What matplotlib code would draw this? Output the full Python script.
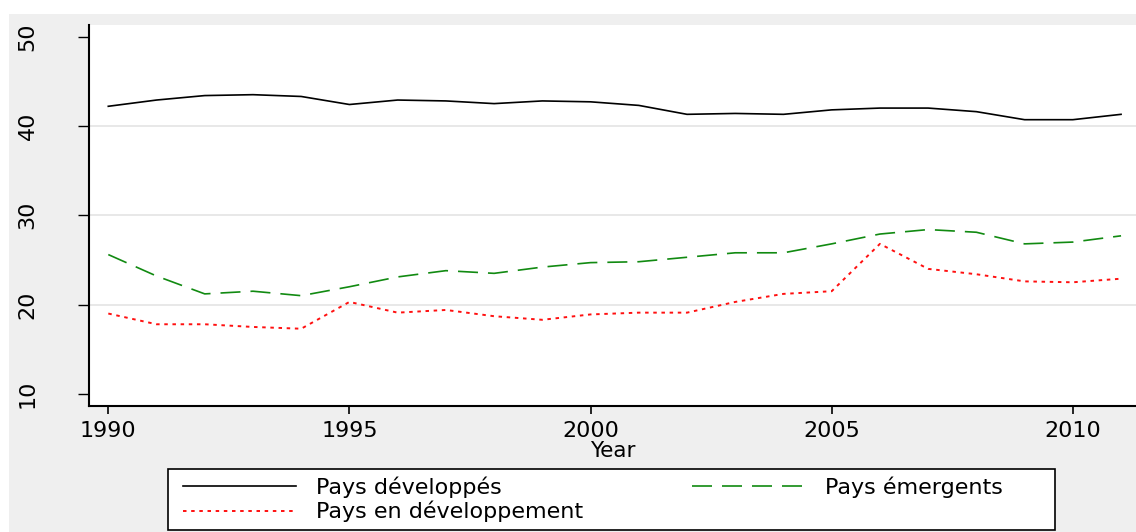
import numpy as np
import matplotlib.pyplot as plt
from matplotlib.patches import Rectangle

years = list(range(1990, 2012))
developpes = [42.2, 42.9, 43.4, 43.5, 43.3, 42.4, 42.9, 42.8, 42.5, 42.8, 42.7, 42.3,
              41.3, 41.4, 41.3, 41.8, 42.0, 42.0, 41.6, 40.7, 40.7, 41.3]
emergents = [25.6, 23.2, 21.2, 21.5, 21.0, 22.0, 23.1, 23.8, 23.5, 24.2, 24.7, 24.8,
             25.3, 25.8, 25.8, 26.8, 27.9, 28.4, 28.1, 26.8, 27.0, 27.7]
en_dev = [19.0, 17.8, 17.8, 17.5, 17.3, 20.3, 19.1, 19.4, 18.7, 18.3, 18.9, 19.1,
          19.1, 20.3, 21.2, 21.5, 26.8, 24.0, 23.4, 22.6, 22.5, 22.9]
xticks = [1990, 1995, 2000, 2005, 2010]
yticks = [10, 20, 30, 40, 50]

W, H = 1136, 532
fig = plt.figure(figsize=(W / 100, H / 100), dpi=100)
fig.patch.set_facecolor('white')
# fond gris façon Stata
fig.add_artist(Rectangle((9 / W, 0), 1, 1 - 14 / H, transform=fig.transFigure,
                         facecolor='#efefef', edgecolor='none', zorder=-5))

ax = fig.add_axes([89 / W, 1 - 406 / H, 1 - 89 / W, (406 - 25) / H])
ax.set_facecolor('white')

for g in [20, 30, 40]:
    ax.axhline(g, color='#e4e4e4', lw=1.2, zorder=0)

l1, = ax.plot(years, developpes, color='black', lw=1.2, label='Pays développés')
l2, = ax.plot(years, emergents, color='#118a11', lw=1.2, dashes=(12, 6), label='Pays émergents')
l3, = ax.plot(years, en_dev, color='#ff1010', lw=1.4, dashes=(1.8, 2.4), label='Pays en développement')

ax.set_xlim(1989.6, 2011.31)
ax.set_ylim(8.65, 51.3)
ax.set_xticks(xticks)
ax.set_yticks(yticks)
ax.set_yticklabels([str(v) for v in yticks], rotation=90, va='center',
                   family=['Liberation Sans Narrow', 'DejaVu Sans'], fontsize=16)
ax.tick_params(axis='y', length=8, width=1, pad=29)
ax.tick_params(axis='x', length=6, width=1.2, pad=5, labelsize=16)
ax.set_xlabel('Year', fontsize=15.5, labelpad=0)

for s in ['top', 'right']:
    ax.spines[s].set_visible(False)
for s in ['left', 'bottom']:
    ax.spines[s].set_linewidth(1.5)

# cadre de la légende
fig.add_artist(Rectangle((168 / W, 1 - 530 / H), (1055 - 168) / W, 61 / H,
                         transform=fig.transFigure, facecolor='white',
                         edgecolor='black', lw=1.2, zorder=1))

opts = dict(loc='upper left', fontsize=16, handlelength=5.1, handletextpad=0.9,
            borderaxespad=0, borderpad=0, labelspacing=0.15, frameon=False)
leg1 = fig.legend(handles=[l1, l3], bbox_to_anchor=(183 / W, 1 - 476 / H), **opts)
leg2 = fig.legend(handles=[l2], bbox_to_anchor=(692 / W, 1 - 476 / H), **opts)
leg1.set_zorder(2)
leg2.set_zorder(2)

fig.savefig('out.png', dpi=100, facecolor=fig.get_facecolor())
